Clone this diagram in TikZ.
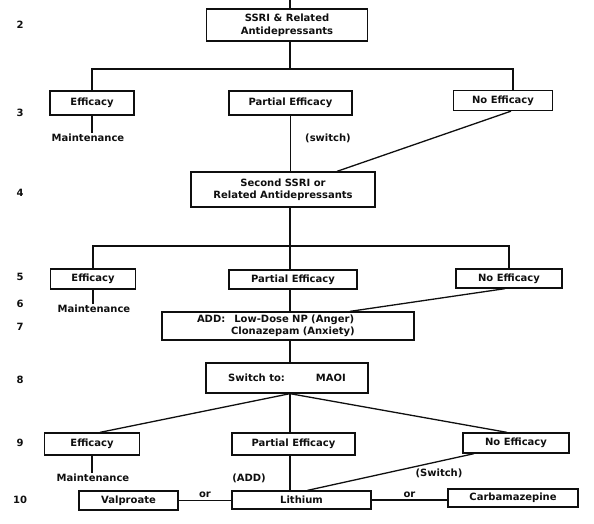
\documentclass[tikz,border=0pt]{standalone}
\usepackage{fontspec}
\setmainfont{DejaVu Sans}
\usepackage{xcolor}
\definecolor{scanink}{rgb}{0.06, 0.06, 0.06}

\begin{document}
\begin{tikzpicture}[x=1pt, y=-1pt,
			every node/.style={font=\fontsize{10}{12.5}\selectfont\bfseries, text=scanink},
			stepbox/.style={draw=scanink, line width=1.3pt, align=center, inner sep=1pt},
			note/.style={inner sep=1pt},
			link/.style={draw=scanink, line width=1.3pt}
		]
		\useasboundingbox (0,0) rectangle (594,523);
		% row numbers down the left side
		\foreach \n/\y in {2/25, 3/113, 4/193, 5/277, 6/304, 7/327, 8/380, 9/443, 10/500}
			\node[note] (row\n) at (20,\y) {\n};
		% first line of treatment
		\node[stepbox, minimum width=161pt, minimum height=32pt] (ssri) at (287,25) {SSRI \& Related\\Antidepressants};
		\node[stepbox, minimum width=84pt, minimum height=24pt] (eff1) at (92,103) {Efficacy};
		\node[stepbox, minimum width=123pt, minimum height=24pt] (part1) at (290.5,103) {Partial Efficacy};
		\node[stepbox, minimum width=99pt, minimum height=20pt] (noeff1) at (503,100.5) {No Efficacy};
		\node[note] (maint1) at (88,138) {Maintenance};
		\node[note] (switch1) at (328,138) {(switch)};
		% second line
		\node[stepbox, minimum width=184pt, minimum height=35pt] (second) at (283,189.5) {Second SSRI or\\Related Antidepressants};
		\node[stepbox, minimum width=85pt, minimum height=20pt] (eff2) at (93,279) {Efficacy};
		\node[stepbox, minimum width=128pt, minimum height=19pt] (part2) at (293,279.5) {Partial Efficacy};
		\node[stepbox, minimum width=106pt, minimum height=19pt] (noeff2) at (509,278.5) {No Efficacy};
		\node[note] (maint2) at (94,309) {Maintenance};
		\node[stepbox, minimum width=252pt, minimum height=28pt, text width=182pt, align=left] (add) at (288,326) {ADD:\hspace{0.9em}Low-Dose NP (Anger)\\\hspace*{3.4em}Clonazepam (Anxiety)};
		% third line
		\node[stepbox, minimum width=162pt, minimum height=30pt] (maoi) at (287,378) {Switch to:\hspace{3.1em}MAOI};
		\node[stepbox, minimum width=95pt, minimum height=22pt] (eff3) at (92,444) {Efficacy};
		\node[stepbox, minimum width=123pt, minimum height=22pt] (part3) at (293.5,444) {Partial Efficacy};
		\node[stepbox, minimum width=106pt, minimum height=20pt] (noeff3) at (516,443) {No Efficacy};
		\node[note] (maint3) at (93,478) {Maintenance};
		\node[note] (addlbl) at (249,478) {(ADD)};
		\node[note] (switch3) at (439,473) {(Switch)};
		\node[stepbox, minimum width=99pt, minimum height=19pt] (valp) at (128.5,500.5) {Valproate};
		\node[stepbox, minimum width=139pt, minimum height=18pt] (lith) at (301.5,500) {Lithium};
		\node[stepbox, minimum width=130pt, minimum height=18pt] (carb) at (513,498) {Carbamazepine};
		% connectors
		\coordinate (top) at (290,0);
		\coordinate (bar1) at (290,69);
		\coordinate (bar2) at (290,246);
		\draw[link] (top) -- (top |- ssri.north);
		\draw[link] (top |- ssri.south) -- (bar1);
		\draw[link] (eff1.north) |- (bar1) -| ([xshift=10pt]noeff1.north);
		\draw[link] (eff1.south) -- (eff1.south |- maint1.north);
		\draw[link] (part1.south) -- (part1.south |- second.north);
		\draw[link] ([xshift=8pt]noeff1.south) -- ([xshift=54pt]second.north);
		\draw[link] (bar2 |- second.south) -- (bar2 |- part2.north);
		\draw[link] (eff2.north) |- (bar2) -| (noeff2.north);
		\draw[link] (eff2.south) -- (eff2.south |- maint2.north);
		\draw[link] (bar2 |- part2.south) -- (bar2 |- add.north);
		\draw[link] ([xshift=-4pt]noeff2.south) -- ([xshift=62pt]add.north);
		\draw[link] (bar2 |- add.south) -- (bar2 |- maoi.north);
		\draw[link] ([xshift=8pt]eff3.north) -- (bar2 |- maoi.south) -- ([xshift=-9pt]noeff3.north);
		\draw[link] (bar2 |- maoi.south) -- (bar2 |- part3.north);
		\draw[link] (eff3.south) -- (eff3.south |- maint3.north);
		\draw[link] (bar2 |- part3.south) -- (bar2 |- lith.north);
		\draw[link] ([xshift=-42pt]noeff3.south) -- ([xshift=6pt]lith.north);
		\draw[link] (valp.east) -- node[note, above=1pt, midway] {or} (valp.east -| lith.west);
		\draw[link] (lith.east) -- node[note, above=1pt, midway] {or} (lith.east -| carb.west);
	\end{tikzpicture}
\end{document}
